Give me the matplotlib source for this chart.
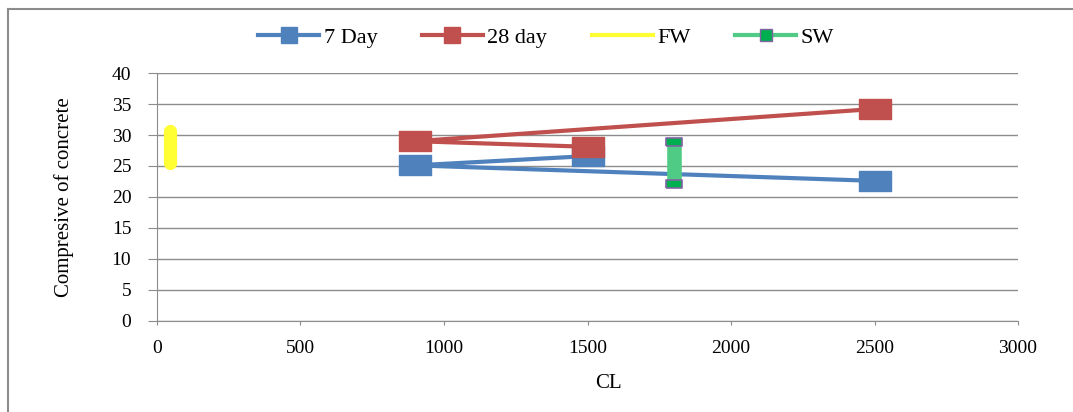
import matplotlib
matplotlib.use("Agg")
import matplotlib.pyplot as plt
from matplotlib.lines import Line2D

# data
cl = [1500, 900, 2500]
day7 = [26.6, 25.1, 22.6]
day28 = [28.1, 29.0, 34.2]
fw_x = [45, 45]
fw_y = [25.5, 30.7]
sw_x = [1800, 1800]
sw_y = [22.1, 28.9]

plt.rcParams['font.family'] = ['Liberation Serif', 'DejaVu Serif']

blue = '#4F81BD'
red = '#C0504D'
yellow = '#FFFF33'
green = '#50CB85'

# wide flat box marker (the original image is stretched sideways)
box = [(-1.55, -1), (1.55, -1), (1.55, 1), (-1.55, 1), (-1.55, -1)]
small_box = [(-1.8, -1), (1.8, -1), (1.8, 1), (-1.8, 1), (-1.8, -1)]

fig = plt.figure(figsize=(10.73, 4.12), dpi=100)
ax = fig.add_axes([0.1463, 0.2209, 0.8025, 0.6019])

ax.plot(cl, day7, color=blue, lw=3, marker=box, ms=22.5, mec=blue, mfc=blue, zorder=3)
ax.plot(cl, day28, color=red, lw=3, marker=box, ms=22.5, mec=red, mfc=red, zorder=4)
ax.plot(fw_x, fw_y, color=yellow, lw=9.5, solid_capstyle='round', zorder=5)
ax.plot(sw_x, sw_y, color=green, lw=10.5, solid_capstyle='butt', marker=small_box,
        ms=11.5, mfc='#00B050', mec='#8064A2', mew=1.2, zorder=5)

ax.set_xlim(0, 3000)
ax.set_ylim(0, 40)
ax.set_xticks(range(0, 3001, 500))
ax.set_yticks(range(0, 41, 5))
ax.grid(axis='y', color='#8C8C8C', lw=1)
ax.set_axisbelow(True)
for s in ['top', 'right']:
    ax.spines[s].set_visible(False)
for s in ['left', 'bottom']:
    ax.spines[s].set_color('#8C8C8C')
ax.tick_params(axis='y', length=6.5, color='#8C8C8C', labelsize=14, pad=12)
ax.tick_params(axis='x', length=3, color='#8C8C8C', labelsize=14, pad=11)

ax.set_xlabel('CL', fontsize=15)
ax.xaxis.set_label_coords(0.524, -0.215)
ax.set_ylabel('Compresive of concrete', fontsize=15)
ax.yaxis.set_label_coords(-0.0964, 0.5)

handles = [
    Line2D([], [], color=blue, lw=3, marker='s', ms=11),
    Line2D([], [], color=red, lw=3, marker='s', ms=11),
    Line2D([], [], color=yellow, lw=3),
    Line2D([], [], color=green, lw=3, marker='s', ms=8, mfc='#00B050', mec='#8064A2'),
]
fig.legend(handles, ['7 Day', '28 day', 'FW', 'SW'], loc='center',
           bbox_to_anchor=(0.509, 1 - 38 / 412), ncol=4, frameon=False,
           fontsize=16, handlelength=2.75, columnspacing=2.0, handletextpad=0.2)

# partial chart border visible at top and left
fig.add_artist(Line2D([8 / 1073, 8 / 1073], [0, 1 - 9 / 412], color='#8C8C8C', lw=1.5))
fig.add_artist(Line2D([8 / 1073, 1], [1 - 9 / 412, 1 - 9 / 412], color='#8C8C8C', lw=1.5))

fig.savefig('out.png', dpi=100)
